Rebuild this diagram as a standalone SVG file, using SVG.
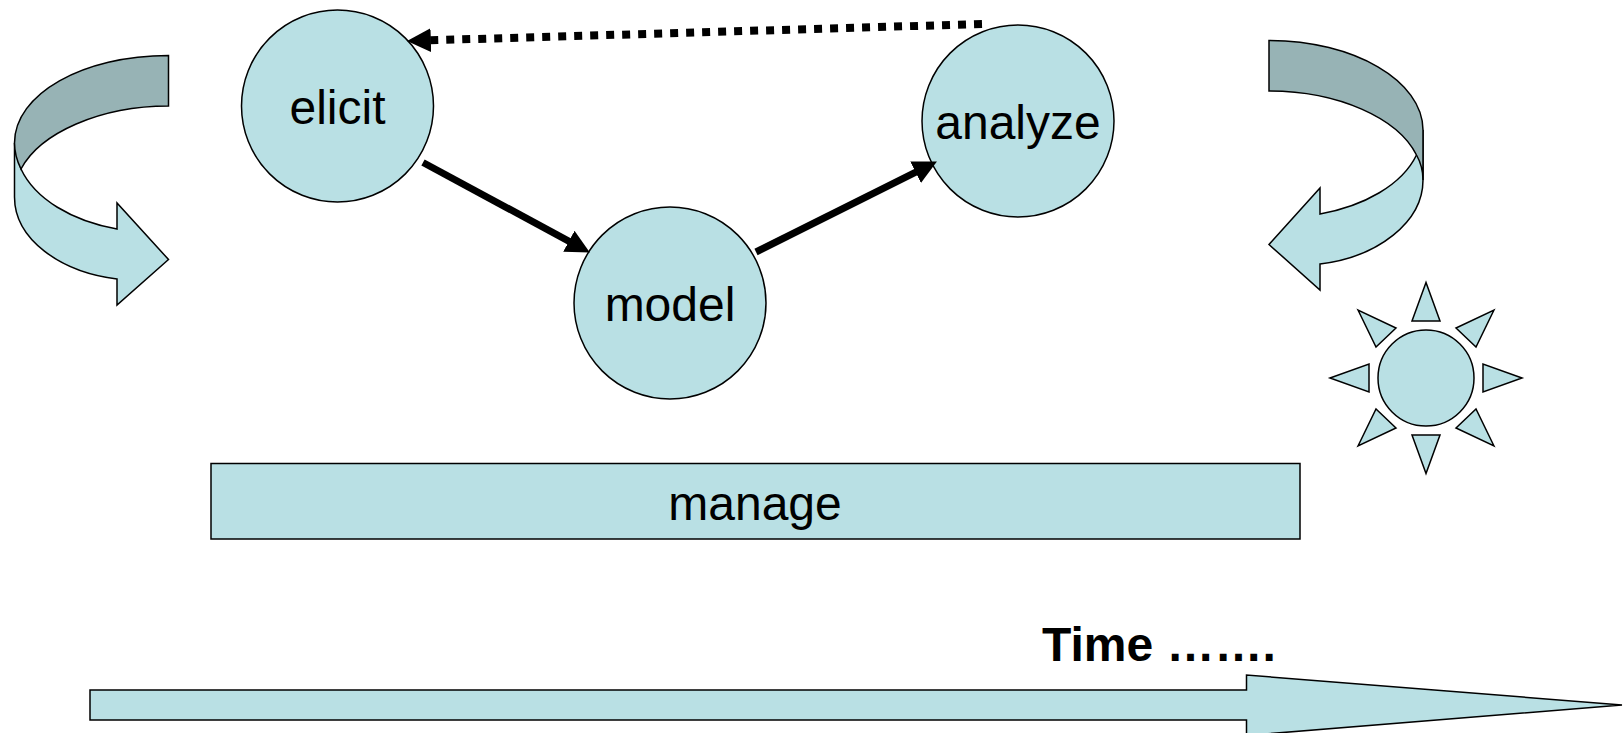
<svg xmlns="http://www.w3.org/2000/svg" width="1623" height="733" viewBox="0 0 1623 733">
<style>
.s{fill:#b9e0e4;stroke:#000;stroke-width:1.5;stroke-linejoin:miter}
.d{fill:#97b3b5;stroke:#000;stroke-width:1.5}
.t{font-family:"Liberation Sans",Arial,sans-serif;font-size:48px;fill:#000;text-anchor:middle}
.b{font-family:"Liberation Sans",Arial,sans-serif;font-size:48px;font-weight:bold;fill:#000;text-anchor:middle}
.c{fill:none;stroke:#000;stroke-width:7}
</style>
<defs>
<marker id="ah" markerUnits="userSpaceOnUse" markerWidth="26" markerHeight="26" refX="10" refY="12" orient="auto" viewBox="0 0 24 24"><path d="M0 1L22 12L0 23Z" fill="#000"/></marker>
</defs>
<g id="elicit"><circle class="s" cx="337.5" cy="106" r="96"/><text class="t" x="337.5" y="124">elicit</text></g>
<g id="model"><circle class="s" cx="670" cy="303" r="96"/><text class="t" x="670" y="321">model</text></g>
<g id="analyze"><circle class="s" cx="1018" cy="121" r="96"/><text class="t" x="1018" y="139">analyze</text></g>
<g id="connectors">
<path class="c" d="M423 162.500L578.400 246.300" marker-end="url(#ah)"/>
<path class="c" d="M756 252L925.300 167.400" marker-end="url(#ah)"/>
<path class="c" stroke-width="8" style="stroke-width:8" d="M982 24L420 40.600" stroke-dasharray="8 8" marker-end="url(#ah)"/>
</g>
<g id="manage"><rect class="s" x="211" y="463.500" width="1089" height="75.500"/><text class="t" x="755" y="520">manage</text></g>
<g id="arrow-left">
<path class="s" d="M14.500 143V197C14.500 239 60 272 117 279V305L168.500 259.500L117 203V229C72 221 35 199 21 169Z"/>
<path class="d" d="M168.500 55.500C83 55.500 14.500 94 14.500 143C14.500 152 17 161 21 169C40 133 100 106 168.500 106Z"/>
</g>
<g id="arrow-right">
<path class="s" d="M1423 130V180C1423 222 1378 257 1320 264V290L1269 244.500L1320 188V214C1364 206 1402 185 1416.500 155Z"/>
<path class="d" d="M1269 40.500C1354 40.500 1423 81 1423 130V180C1423 171 1421 163 1416.500 155C1398 118 1338 91 1269 91Z"/>
</g>
<g id="sun">
<circle class="s" cx="1426" cy="378" r="48"/>
<path class="s" d="M1426 282.500L1412 321H1440Z"/>
<path class="s" d="M1426 473.500L1412 435H1440Z"/>
<path class="s" d="M1330 378L1369 364V392Z"/>
<path class="s" d="M1522 378L1483 364V392Z"/>
<path class="s" d="M1358 310L1376 347L1396 328Z"/>
<path class="s" d="M1494 310L1476 347L1456 328Z"/>
<path class="s" d="M1358 446L1376 409L1396 428Z"/>
<path class="s" d="M1494 446L1476 409L1456 428Z"/>
</g>
<g id="time">
<text class="b" x="1159" y="661">Time …….</text>
<path class="s" d="M90 690H1246.500V675L1622 705L1246.500 735.500V720H90Z"/>
</g>
</svg>
